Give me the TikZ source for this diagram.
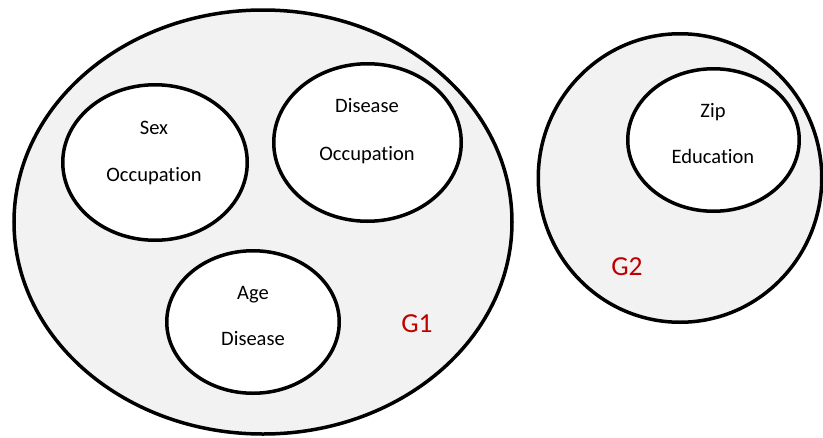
\documentclass[tikz,border=0pt]{standalone}
\usepackage{fontspec}
\setmainfont[Ligatures=NoCommon]{Carlito}
\usetikzlibrary{shapes.geometric}
\definecolor{groupfill}{RGB}{242,242,242}
\definecolor{glabel}{RGB}{192,0,0}
\begin{document}
\begin{tikzpicture}[x=1pt,y=-1pt,
  group/.style={ellipse,draw=black,line width=3.5pt,fill=groupfill,inner sep=0pt},
  attr/.style={ellipse,draw=black,line width=3.5pt,fill=white,inner sep=0pt},
  txt/.style={anchor=mid,inner sep=0pt,font=\fontsize{20.5}{23}\selectfont},
  glab/.style={anchor=mid,inner sep=0pt,text=glabel,font=\fontsize{27.5}{30}\selectfont}]
\useasboundingbox (0,0) rectangle (823,437);
\node[group,minimum width=498pt,minimum height=424pt] (g1) at (263,222) {};
\node[group,minimum width=283.5pt,minimum height=288.5pt] (g2) at (680,178) {};
\node[attr,minimum width=184.5pt,minimum height=155.5pt] (sexocc) at (155,162.5) {};
\node[attr,minimum width=187.5pt,minimum height=157.5pt] (disocc) at (367.5,142.5) {};
\node[attr,minimum width=172.5pt,minimum height=142.5pt] (agedis) at (253,322) {};
\node[attr,minimum width=171.5pt,minimum height=142.5pt] (zipedu) at (713.5,140) {};
\node[txt] (t1a) at (154,132) {Sex};
\node[txt] (t1b) at (154,179) {Occupation};
\node[txt] (t2a) at (367,110) {Disease};
\node[txt] (t2b) at (367,158) {Occupation};
\node[txt] (t3a) at (253,297) {Age};
\node[txt] (t3b) at (253,343) {Disease};
\node[txt] (t4a) at (713,115) {Zip};
\node[txt] (t4b) at (713,161) {Education};
\node[glab] (lg1) at (417,330) {G1};
\node[glab] (lg2) at (627,273) {G2};
\end{tikzpicture}
\end{document}
